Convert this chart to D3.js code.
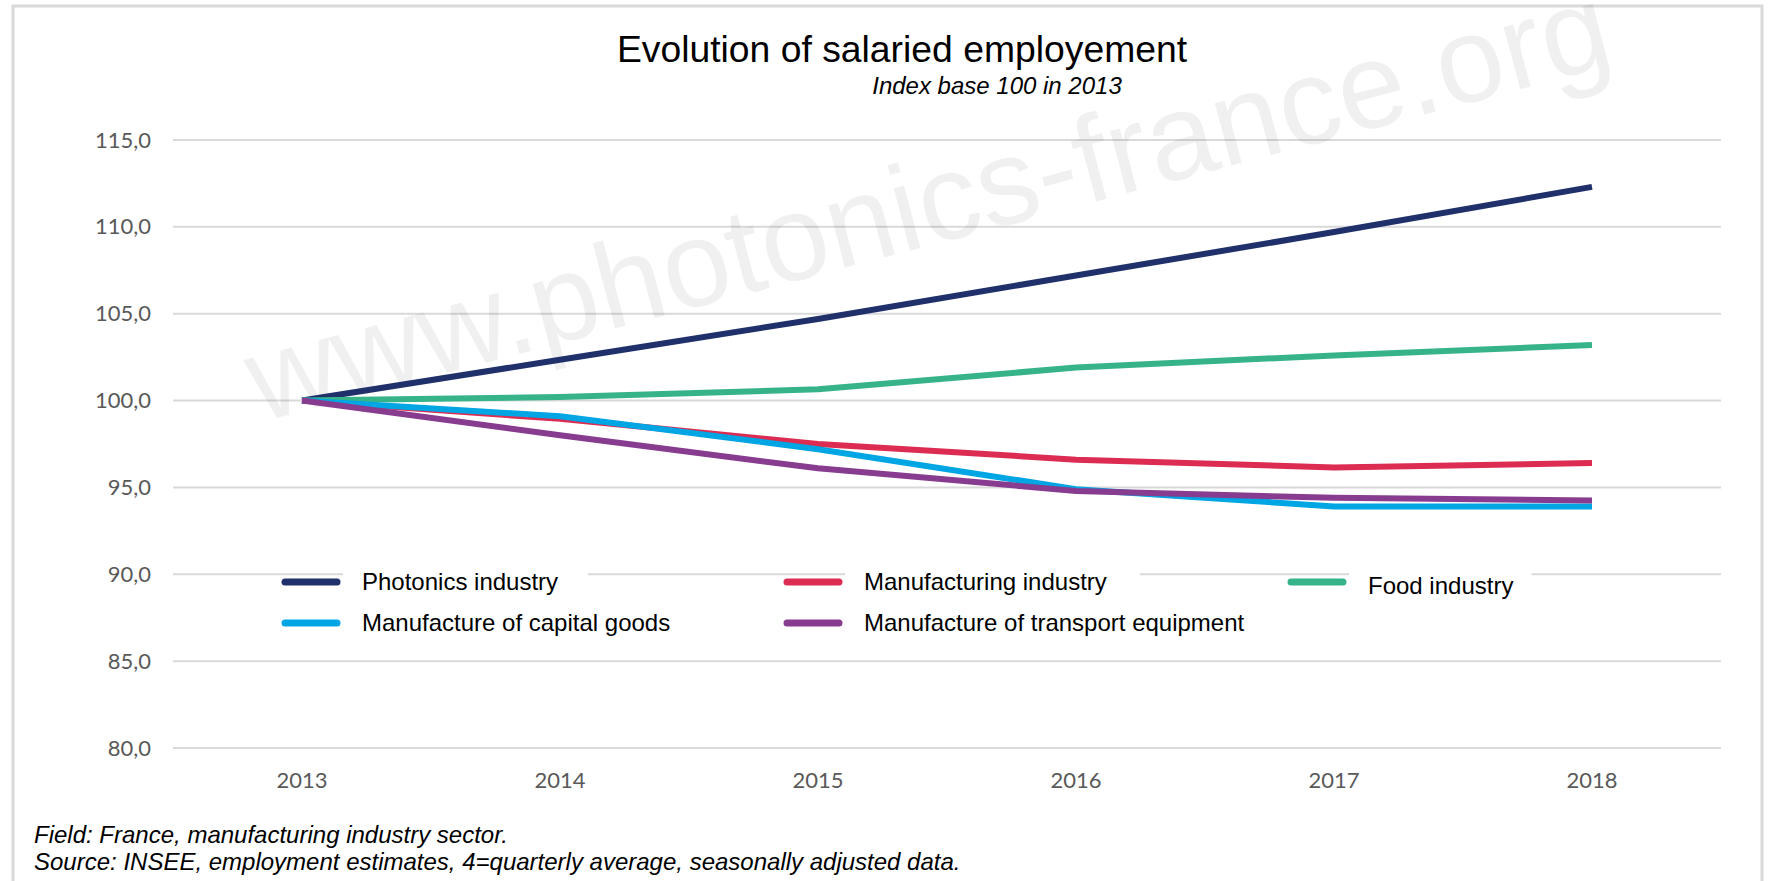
<!doctype html>
<html>
<head>
<meta charset="UTF-8">
<title>Evolution of salaried employement</title>
<script src="https://d3js.org/d3.v7.min.js"></script>
<style>
  body { margin: 0; background: #fff; }
</style>
</head>
<body>
<script>
// data
var years = ["2013", "2014", "2015", "2016", "2017", "2018"];
var yTicks = [80, 85, 90, 95, 100, 105, 110, 115];
var seriesNames = ["Photonics industry", "Manufacturing industry", "Food industry",
                   "Manufacture of capital goods", "Manufacture of transport equipment"];
var seriesColors = ["#20306b", "#dc2c52", "#37b389", "#00a5e3", "#873c90"];
var photonics     = [100, 102.35, 104.7, 107.2, 109.7, 112.3];
var manufacturing = [100, 98.95, 97.5, 96.6, 96.15, 96.4];
var food          = [100, 100.2, 100.65, 101.9, 102.6, 103.2];
var capitalGoods  = [100, 99.1, 97.2, 94.9, 93.9, 93.9];
var transport     = [100, 98.0, 96.1, 94.8, 94.4, 94.25];
var seriesValues = [photonics, manufacturing, food, capitalGoods, transport];

var W = 1776, H = 881;
var svg = d3.select("body").append("svg")
    .attr("width", W).attr("height", H);

// outer frame
svg.append("rect")
    .attr("x", 13).attr("y", 6).attr("width", 1749).attr("height", 900)
    .attr("fill", "#fff").attr("stroke", "#d9d9d9").attr("stroke-width", 3);

var x = d3.scaleBand().domain(years).range([173, 1721]).padding(0);
var y = d3.scaleLinear().domain([80, 115]).range([748, 140]);

// gridlines
svg.append("g")
    .selectAll("line").data(yTicks).enter().append("line")
    .attr("x1", 173).attr("x2", 1721)
    .attr("y1", function(d){ return y(d); })
    .attr("y2", function(d){ return y(d); })
    .attr("stroke", "#d9d9d9").attr("stroke-width", 2);

// y axis labels
var yAxis = d3.axisLeft(y).tickValues(yTicks).tickSize(0).tickPadding(0)
    .tickFormat(function(d){ return d3.format(".1f")(d).replace(".", ","); });
var gy = svg.append("g").attr("transform", "translate(151,0)").call(yAxis);
gy.select(".domain").remove();
gy.selectAll("text")
    .attr("font-family", "Lato, 'Open Sans', sans-serif")
    .attr("font-size", 22).attr("fill", "#595959");

// x axis labels
var xAxis = d3.axisBottom(x).tickSize(0).tickPadding(0);
var gx = svg.append("g").attr("transform", "translate(0,772)").call(xAxis);
gx.select(".domain").remove();
gx.selectAll("text")
    .attr("font-family", "Lato, 'Open Sans', sans-serif")
    .attr("font-size", 22).attr("fill", "#595959");

// watermark
svg.append("text")
    .attr("transform", "translate(930,212) rotate(-14.8)")
    .attr("text-anchor", "middle")
    .attr("dominant-baseline", "middle")
    .attr("font-family", "Liberation Sans, Arial, sans-serif")
    .attr("font-size", 122)
    .attr("fill", "#000").attr("fill-opacity", 0.06)
    .text("www.photonics-france.org");

// series lines
var line = d3.line()
    .x(function(d, i){ return x(years[i]) + x.bandwidth() / 2; })
    .y(function(d){ return y(d); });

svg.append("g")
    .selectAll("path").data(seriesValues).enter().append("path")
    .attr("d", line)
    .attr("fill", "none")
    .attr("stroke", function(d, i){ return seriesColors[i]; })
    .attr("stroke-width", 6)
    .attr("stroke-linejoin", "round")
    .attr("stroke-linecap", "butt");

// legend (Excel style, row-wise)
var legendPos = [[285, 582], [787, 582], [1291, 582], [285, 623], [787, 623]];
var lg = svg.append("g").selectAll("g").data(seriesNames).enter().append("g")
    .attr("transform", function(d, i){
        return "translate(" + legendPos[i][0] + "," + legendPos[i][1] + ")";
    });
lg.append("rect")
    .attr("x", 58).attr("y", -14).attr("height", 30)
    .attr("width", function(d){ return d.length * 12.5 + 20; })
    .attr("fill", "#fff");
lg.append("line")
    .attr("x1", 0).attr("x2", 52).attr("y1", 0).attr("y2", 0)
    .attr("stroke", function(d, i){ return seriesColors[i]; })
    .attr("stroke-width", 7).attr("stroke-linecap", "round");
lg.append("text")
    .attr("x", 77)
    .attr("y", function(d, i){ return i == 2 ? 12 : 8; })
    .attr("font-family", "Liberation Sans, Arial, sans-serif")
    .attr("font-size", 24).attr("fill", "#000")
    .text(function(d){ return d; });

// titles
svg.append("text")
    .attr("x", 902).attr("y", 62)
    .attr("text-anchor", "middle")
    .attr("font-family", "Liberation Sans, Arial, sans-serif")
    .attr("font-size", 37.3).attr("fill", "#000")
    .text("Evolution of salaried employement");
svg.append("text")
    .attr("x", 997).attr("y", 94)
    .attr("text-anchor", "middle")
    .attr("font-family", "Liberation Sans, Arial, sans-serif")
    .attr("font-style", "italic")
    .attr("font-size", 24).attr("fill", "#000")
    .text("Index base 100 in 2013");

// footnotes
var notes = ["Field: France, manufacturing industry sector.",
             "Source: INSEE, employment estimates, 4=quarterly average, seasonally adjusted data."];
svg.append("g").selectAll("text").data(notes).enter().append("text")
    .attr("x", 34)
    .attr("y", function(d, i){ return 843 + i * 27; })
    .attr("font-family", "Liberation Sans, Arial, sans-serif")
    .attr("font-style", "italic")
    .attr("font-size", 24).attr("fill", "#000")
    .text(function(d){ return d; });
</script>
</body>
</html>
